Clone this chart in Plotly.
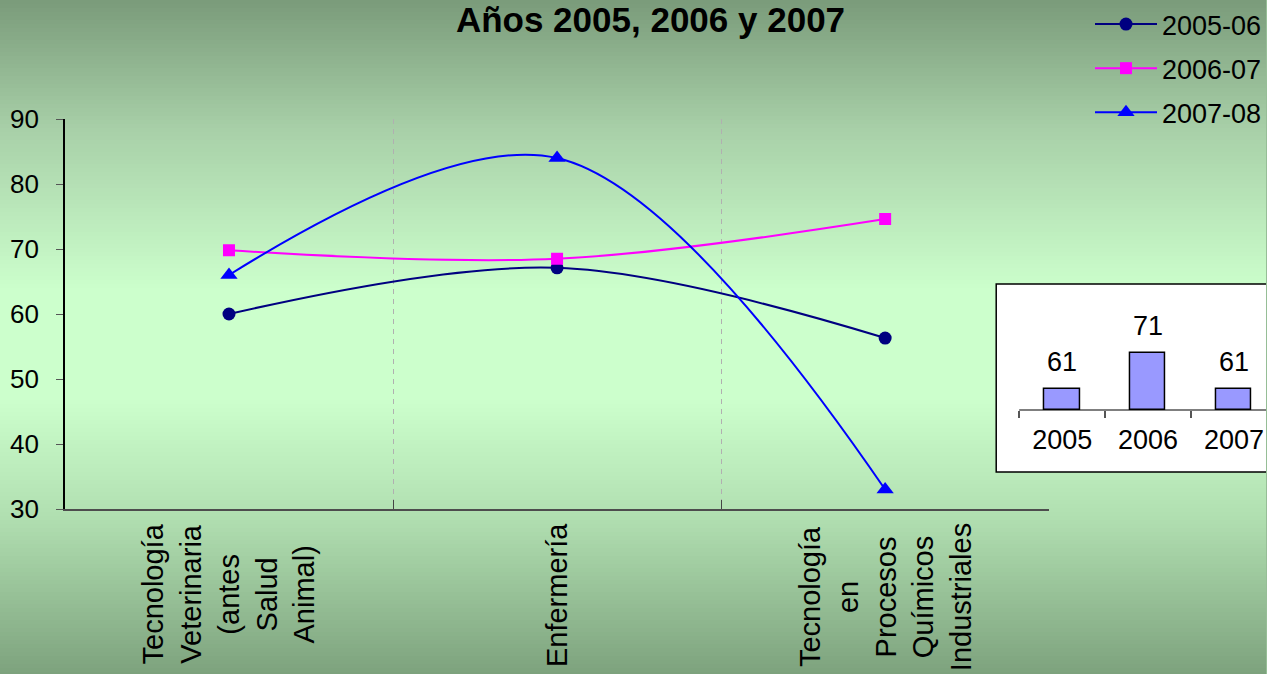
import plotly.graph_objects as go

# ---------------- data ----------------
categories = [
    "Tecnología Veterinaria (antes Salud Animal)",
    "Enfermería",
    "Tecnología en Procesos Químicos Industriales",
]
series_names = ["2005-06", "2006-07", "2007-08"]
values_2005_06 = [60.0, 67.1, 56.3]
values_2006_07 = [69.8, 68.5, 74.6]
values_2007_08 = [66.0, 84.0, 33.0]
y_ticks = [30, 40, 50, 60, 70, 80, 90]

inset_years = ["2005", "2006", "2007"]
inset_values = [61, 71, 61]

title_text = "Años 2005, 2006 y 2007"

# ---------------- layout helpers ----------------
W, H = 1267, 674
FONT = "Liberation Sans, Arial, sans-serif"


def px(x):
    return x / W


def py(y):
    return 1 - y / H


# inset axis scale (pixel mapping of the small bar chart)
INSET_BASE = 55.2          # axis minimum of the inset chart
INSET_BASE_PX = 410
INSET_PX_PER_UNIT = 3.6
INSET_CAT0_PX = 1063
INSET_CAT_PX = 86


def inset_y(ypix):
    return INSET_BASE + (INSET_BASE_PX - ypix) / INSET_PX_PER_UNIT


def inset_x(xpix):
    return (xpix - INSET_CAT0_PX) / INSET_CAT_PX


fig = go.Figure()

# ---------------- gradient background ----------------
stops = [(0, (122, 155, 122)), (130, (168, 208, 168)), (290, (204, 255, 204)),
         (400, (204, 255, 204)), (520, (176, 222, 176)), (674, (125, 162, 125))]


def col_at(y):
    for (y0, c0), (y1, c1) in zip(stops[:-1], stops[1:]):
        if y0 <= y <= y1:
            t = (y - y0) / (y1 - y0)
            return tuple(round(a + (b - a) * t) for a, b in zip(c0, c1))
    return stops[-1][1]


shapes = []
step = 4
for yb in range(0, H, step):
    c = col_at(yb + step / 2)
    shapes.append(dict(type="rect", xref="paper", yref="paper", layer="below",
                       x0=0, x1=1, y0=py(yb + step + 0.5), y1=py(yb),
                       fillcolor="rgb(%d,%d,%d)" % c, line=dict(width=0)))

# ---------------- main series ----------------
styles = [
    dict(color="#000080", symbol="circle", size=13),
    dict(color="#ff00ff", symbol="square", size=12),
    dict(color="#0000ff", symbol="triangle-up", size=15),
]
for name, vals, st in zip(series_names, [values_2005_06, values_2006_07, values_2007_08], styles):
    fig.add_trace(go.Scatter(
        x=categories, y=vals, name=name, mode="lines+markers",
        line=dict(color=st["color"], width=2, shape="spline", smoothing=1.0),
        marker=dict(color=st["color"], symbol=st["symbol"], size=st["size"]),
        legendgroup=name, xaxis="x", yaxis="y", hoverinfo="skip",
    ))

# ---------------- inset bar chart ----------------
fig.add_trace(go.Bar(
    x=inset_years, y=[v - INSET_BASE for v in inset_values], base=INSET_BASE,
    width=0.41, marker=dict(color="#9999ff", line=dict(color="black", width=1.5)),
    xaxis="x2", yaxis="y2", showlegend=False, hoverinfo="skip",
))

shapes.append(dict(type="rect", xref="x2", yref="y2", layer="below",
                   x0=inset_x(997), x1=inset_x(1300), y0=inset_y(472), y1=inset_y(284),
                   fillcolor="white", line=dict(color="black", width=1.5)))
shapes.append(dict(type="line", xref="x2", yref="y2", layer="below",
                   x0=-0.5, x1=inset_x(1300), y0=INSET_BASE, y1=INSET_BASE,
                   line=dict(color="#555555", width=1.5)))

annotations = []
for i, (yr, v) in enumerate(zip(inset_years, inset_values)):
    annotations.append(dict(x=i, y=v, xref="x2", yref="y2", text=str(v),
                            showarrow=False, yanchor="bottom", yshift=10,
                            font=dict(family=FONT, size=27, color="black")))

# category labels (rotated, centred lines)
for i, cat in enumerate(categories):
    annotations.append(dict(x=i, y=py(521), xref="x", yref="paper",
                            text="<br>".join(cat.split(" ")), showarrow=False,
                            textangle=-90, yanchor="top", xanchor="center", align="center",
                            font=dict(family=FONT, size=29, color="black")))

fig.update_layout(
    template="none",
    width=W, height=H,
    margin=dict(l=0, r=0, t=0, b=0),
    paper_bgcolor="rgb(150,190,150)",
    plot_bgcolor="rgba(0,0,0,0)",
    font=dict(family=FONT, color="black"),
    title=dict(text="<b>%s</b>" % title_text, x=651 / W, xanchor="center",
               xref="paper", yref="container", y=py(20), yanchor="middle",
               font=dict(family=FONT, size=35, color="black")),
    showlegend=True,
    legend=dict(x=px(1091), y=py(0), xanchor="left", yanchor="top",
                bgcolor="rgba(0,0,0,0)", borderwidth=0,
                font=dict(family=FONT, size=27, color="black"),
                itemwidth=62, tracegroupgap=6, traceorder="grouped"),
    xaxis=dict(domain=[px(65), px(1050)], type="category", categoryorder="array",
               categoryarray=categories, range=[-0.5, 2.5], tickson="boundaries",
               ticks="inside", ticklen=9, tickcolor="#444444", tickwidth=1,
               showgrid=True, gridcolor="#b0b0b0", griddash="5px,5px", gridwidth=1,
               showline=True, linecolor="#4d4d4d", linewidth=2, showticklabels=False,
               zeroline=False, automargin=False, anchor="y", fixedrange=True),
    yaxis=dict(domain=[py(509), py(119)], range=[30, 90], tickmode="array",
               tickvals=y_ticks, ticks="outside", ticklen=7, tickcolor="#555555",
               showline=True, linecolor="black", linewidth=1.5, showgrid=False,
               zeroline=False, tickfont=dict(family=FONT, size=26, color="black"),
               ticklabelstandoff=12, automargin=False, anchor="x", fixedrange=True),
    xaxis2=dict(domain=[px(995), 1], type="category", categoryorder="array",
                categoryarray=inset_years, range=[inset_x(995), inset_x(1267)],
                anchor="free", position=py(INSET_BASE_PX), tickson="boundaries",
                ticks="outside", ticklen=7, tickcolor="#555555", tickwidth=1.5,
                showline=False, showgrid=False, zeroline=False,
                tickfont=dict(family=FONT, size=27, color="black"),
                ticklabelstandoff=11, automargin=False, fixedrange=True),
    yaxis2=dict(domain=[py(474), py(282)], range=[inset_y(474), inset_y(282)],
                anchor="x2", visible=False, showgrid=False, zeroline=False,
                automargin=False, fixedrange=True),
    shapes=shapes,
    annotations=annotations,
    bargap=0,
)

fig.write_html("out.html", config={"displayModeBar": False},
               post_script="document.body.style.margin='0';")
